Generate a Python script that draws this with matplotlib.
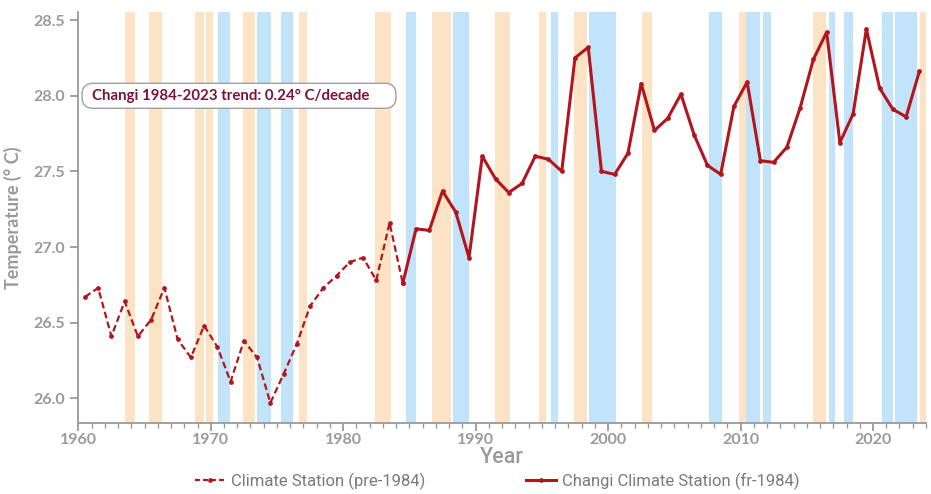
import matplotlib
matplotlib.use("Agg")
import matplotlib.pyplot as plt
from matplotlib.ticker import MultipleLocator, FormatStrFormatter
from matplotlib.lines import Line2D
from matplotlib.patches import FancyBboxPatch
from matplotlib.transforms import IdentityTransform

# ---- data ----
pre_years = list(range(1960, 1984))
pre_temps = [26.67, 26.73, 26.41, 26.64, 26.41, 26.52, 26.73, 26.39, 26.27, 26.48,
             26.34, 26.11, 26.38, 26.27, 25.97, 26.16, 26.36, 26.61, 26.73, 26.81,
             26.90, 26.93, 26.78, 27.16]

changi_years = list(range(1984, 2024))
changi_temps = [26.76, 27.12, 27.11, 27.37, 27.23, 26.93, 27.60, 27.45, 27.36, 27.42,
                27.60, 27.58, 27.50, 28.25, 28.32, 27.50, 27.48, 27.62, 28.08, 27.77,
                27.85, 28.01, 27.74, 27.54, 27.48, 27.93, 28.09, 27.57, 27.56, 27.66,
                27.92, 28.24, 28.42, 27.69, 27.88, 28.44, 28.05, 27.91, 27.86, 28.16]

# El Nino (warm) episodes, start/end in fractional years
elnino_start = [1963.53, 1965.34, 1968.81, 1969.62, 1972.42, 1976.65, 1982.41, 1986.69,
                1991.47, 1994.82, 1997.39, 2002.58, 2009.85, 2015.44, 2023.57]
elnino_end = [1964.28, 1966.34, 1969.47, 1970.15, 1973.35, 1977.30, 1983.59, 1988.15,
              1992.61, 1995.30, 1998.44, 2003.31, 2010.41, 2016.45, 2024.10]
# La Nina (cool) episodes
lanina_start = [1970.57, 1973.47, 1975.29, 1984.75, 1988.32, 1995.68, 1998.57, 2007.64,
                2010.43, 2011.69, 2016.65, 2017.78, 2020.68, 2021.63]
lanina_end = [1971.46, 1974.53, 1976.24, 1985.50, 1989.53, 1996.25, 2000.61, 2008.60,
              2011.49, 2012.32, 2017.10, 2018.46, 2021.51, 2023.32]

trend_text = "Changi 1984-2023 trend: 0.24° C/decade"
pre_label = "Climate Station (pre-1984)"
changi_label = "Changi Climate Station (fr-1984)"

# ---- style ----
line_col = "#b3151e"
gray = "#9a9a9a"
orange = "#fde3c6"
blue = "#c2e4fa"
tick_font = ["Lato", "DejaVu Sans"]
cond_font = ["Roboto", "DejaVu Sans"]

fig = plt.figure(figsize=(9.31, 4.94), dpi=100)
ax = fig.add_axes([0.0841, 0.1431, 0.9105, 0.8332])

for s, e in zip(elnino_start, elnino_end):
    ax.axvspan(s, e, color=orange, lw=0, zorder=1)
for s, e in zip(lanina_start, lanina_end):
    ax.axvspan(s, e, color=blue, lw=0, zorder=1)

# plot points at mid-year
px = [y + 0.5 for y in pre_years] + [changi_years[0] + 0.5]
py = pre_temps + [changi_temps[0]]
ax.plot(px, py, color=line_col, lw=1.6, ls=(0, (3, 1.6)), marker="o", ms=2.4, zorder=3)
cx = [y + 0.5 for y in changi_years]
ax.plot(cx, changi_temps, color=line_col, lw=2.2, marker="o", ms=2.4, zorder=4)

ax.set_xlim(1960, 2024)
ax.set_ylim(25.835, 28.555)

ax.xaxis.set_major_locator(MultipleLocator(10))
ax.xaxis.set_minor_locator(MultipleLocator(1))
ax.yaxis.set_major_locator(MultipleLocator(0.5))
ax.yaxis.set_major_formatter(FormatStrFormatter("%.1f"))

for sp in ["top", "right"]:
    ax.spines[sp].set_visible(False)
for sp in ["left", "bottom"]:
    ax.spines[sp].set_color(gray)
    ax.spines[sp].set_linewidth(1.3)

ax.tick_params(axis="both", which="major", colors=gray, length=6, width=1.3,
               labelsize=11.5, direction="out")
ax.tick_params(axis="x", which="minor", colors=gray, length=3.5, width=1.0)
ax.tick_params(axis="x", which="major", pad=1)
for lab in ax.get_xticklabels() + ax.get_yticklabels():
    lab.set_family(tick_font)
    lab.set_fontweight("bold")
    lab.set_color(gray)

ax.set_ylabel("Temperature (° C)", fontsize=13, color=gray, fontweight="bold",
              family=tick_font, labelpad=8)
ax.set_xlabel("Year", fontsize=15.5, color=gray, family=cond_font, fontweight="medium",
              labelpad=0)

# trend annotation box (pixel coordinates)
box = FancyBboxPatch((82, 385.7), 314, 25, boxstyle="round,pad=0,rounding_size=11",
                     transform=IdentityTransform(), fc="white", ec="#a0a0a0", lw=1.0,
                     zorder=6)
fig.patches.append(box)
fig.text(92 / 931, (494 - 96) / 494, trend_text, fontsize=10.8, fontweight="bold",
         color="#7d1435", family=tick_font, va="center", ha="left", zorder=7)

handles = [Line2D([], [], color=line_col, lw=1.6, ls=(0, (2.2, 1.4)), marker="o", ms=2.4),
           Line2D([], [], color=line_col, lw=2.2, marker="o", ms=2.4)]
leg = fig.legend(handles, [pre_label, changi_label], loc="center",
                 bbox_to_anchor=(0.534, 0.026), ncol=2, frameon=False,
                 prop={"family": cond_font, "size": 12}, columnspacing=6,
                 handlelength=1.8, handletextpad=0.4)
for t in leg.get_texts():
    t.set_color("#7a7a7a")

fig.savefig("out.png", dpi=100)
